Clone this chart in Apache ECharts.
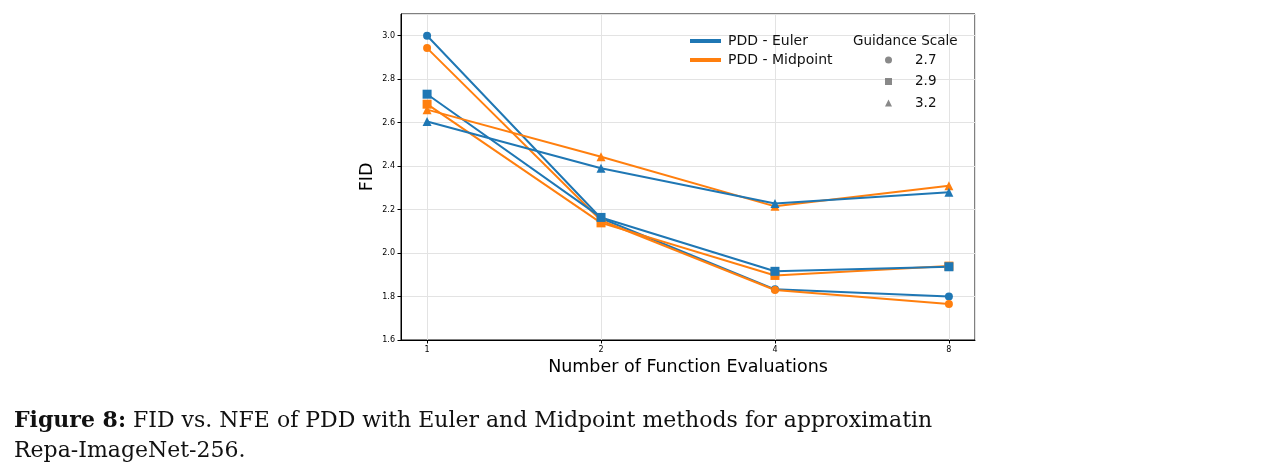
<!DOCTYPE html>
<html>
<head>
<meta charset="utf-8">
<title>FID vs NFE</title>
<script src="https://cdn.jsdelivr.net/npm/echarts@6/dist/echarts.min.js"></script>
<style>
  html, body { margin: 0; padding: 0; background: #fff; }
  #main { width: 1284px; height: 475px; }
</style>
</head>
<body>
<div id="main"></div>
<script type="text/javascript">
    // number of function evaluations (x) and FID values
    var nfe = [1, 2, 4, 8];

    var euler27 = [3.00, 2.16, 1.833, 1.80];
    var euler29 = [2.731, 2.164, 1.916, 1.937];
    var euler32 = [2.605, 2.39, 2.228, 2.28];

    var mid27 = [2.943, 2.15, 1.83, 1.766];
    var mid29 = [2.685, 2.139, 1.897, 1.94];
    var mid32 = [2.66, 2.443, 2.215, 2.31];

    var guidance = ['2.7', '2.9', '3.2'];
    var methods = ['PDD - Euler', 'PDD - Midpoint'];

    var BLUE = '#1f77b4';
    var ORANGE = '#ff7f0e';

    function line(name, color, symbol, values) {
        return {
            type: 'line',
            name: name,
            data: nfe.map(function (n, i) { return [n, values[i]]; }),
            symbol: symbol,
            symbolSize: symbol === 'circle' ? 8 : 9,
            lineStyle: { color: color, width: 2 },
            itemStyle: { color: color },
            emphasis: { disabled: true }
        };
    }

    var myChart = echarts.init(document.getElementById('main'));

    var option = {
        animation: false,
        textStyle: { fontFamily: 'DejaVu Sans' },
        grid: {
            left: 401, right: 309, top: 14, bottom: 135,
            show: true, borderColor: '#000', borderWidth: 1
        },
        xAxis: {
            type: 'log',
            logBase: 2,
            min: Math.pow(2, -0.15),
            max: Math.pow(2, 3.15),
            name: 'Number of Function Evaluations',
            nameLocation: 'middle',
            nameGap: 16,
            nameTextStyle: { fontSize: 17.5, color: '#000' },
            axisLine: { lineStyle: { color: '#000' } },
            axisTick: { length: 3.5, lineStyle: { color: '#000' } },
            axisLabel: {
                fontSize: 8, color: '#000', margin: 6,
                showMinLabel: false, showMaxLabel: false,
                formatter: function (v) { return String(Math.round(v)); }
            },
            splitLine: { show: true, lineStyle: { color: '#e3e3e3' } }
        },
        yAxis: {
            type: 'value',
            min: 1.6,
            max: 3.1,
            interval: 0.2,
            name: 'FID',
            nameLocation: 'middle',
            nameGap: 25,
            nameTextStyle: { fontSize: 17.5, color: '#000' },
            axisLine: { show: true, lineStyle: { color: '#000' } },
            axisTick: { show: true, length: 3.5, lineStyle: { color: '#000' } },
            axisLabel: {
                fontSize: 8, color: '#000', margin: 6,
                showMaxLabel: false,
                formatter: function (v) { return v.toFixed(1); }
            },
            splitLine: { show: true, lineStyle: { color: '#e3e3e3' } }
        },
        legend: [{
            orient: 'vertical',
            left: 685, top: 29,
            itemWidth: 31, itemHeight: 4,
            itemGap: 5,
            selectedMode: false,
            icon: 'rect',
            textStyle: { fontSize: 14, color: '#111', padding: [0, 0, 0, 2] },
            data: methods
        }, {
            orient: 'vertical',
            left: 880, top: 48,
            itemWidth: 7, itemHeight: 7,
            itemGap: 7.5,
            selectedMode: false,
            textStyle: { fontSize: 13.5, color: '#111', padding: [0, 0, 0, 18] },
            data: [
                { name: guidance[0], icon: 'circle' },
                { name: guidance[1], icon: 'rect' },
                { name: guidance[2], icon: 'triangle' }
            ]
        }],
        graphic: [{
            type: 'text',
            left: 853, top: 34, z: 100,
            style: { text: 'Guidance Scale', fontSize: 13.5, fill: '#111', fontFamily: 'DejaVu Sans' }
        }, {
            type: 'text',
            left: 14, top: 406, z: 100,
            style: {
                text: '{b|Figure 8:} FID vs. NFE of PDD with Euler and Midpoint methods for approximatin\nRepa-ImageNet-256.',
                fontSize: 22, lineHeight: 30, fill: '#111', fontFamily: 'DejaVu Serif',
                rich: { b: { fontWeight: 'bold', fontSize: 22, lineHeight: 30, fontFamily: 'DejaVu Serif', fill: '#111' } }
            }
        }],
        series: [
            line(methods[0], BLUE, 'circle', euler27),
            line(methods[1], ORANGE, 'circle', mid27),
            line(methods[1], ORANGE, 'rect', mid29),
            line(methods[0], BLUE, 'rect', euler29),
            line(methods[1], ORANGE, 'triangle', mid32),
            line(methods[0], BLUE, 'triangle', euler32),
            { type: 'scatter', name: guidance[0], data: [], itemStyle: { color: '#6b6b6b' } },
            { type: 'scatter', name: guidance[1], data: [], itemStyle: { color: '#6b6b6b' } },
            { type: 'scatter', name: guidance[2], data: [], itemStyle: { color: '#6b6b6b' } }
        ]
    };

    myChart.setOption(option);
</script>
</body>
</html>
